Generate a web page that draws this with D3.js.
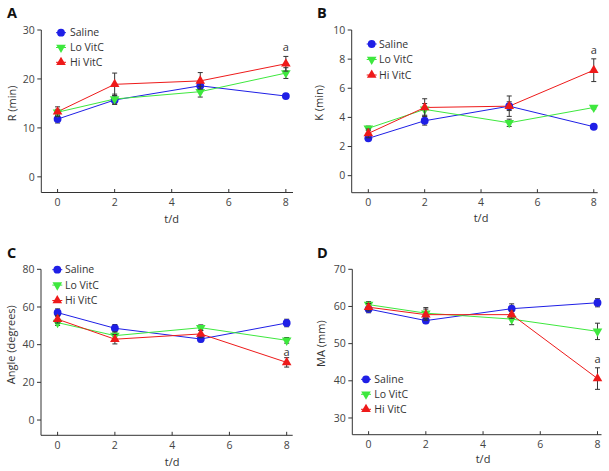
<!DOCTYPE html>
<html><head><meta charset="utf-8">
<script src="https://cdn.jsdelivr.net/npm/d3@7"></script>
<style>
body{margin:0;background:#fff;}
svg{display:block;}
text{font-family:"Open Sans","Noto Sans",sans-serif;}
</style></head>
<body>
<svg id="chart" width="609" height="471"></svg>
<script>
const days = [0, 2, 5, 8];
const xTicks = [0, 2, 4, 6, 8];
const seriesNames = ["Saline", "Lo VitC", "Hi VitC"];
const seriesColors = ["#1f1fe6", "#3ee83e", "#ee1a1a"];

// Panel A: R (min)
const rSaline = [11.8, 15.7, 18.6, 16.5];
const rSalineErr = [0.8, 0.9, 0.5, 0.3];
const rLo = [13.2, 15.9, 17.4, 21.2];
const rLoErr = [0.6, 1.0, 1.1, 1.1];
const rHi = [13.3, 18.9, 19.6, 23.1];
const rHiErr = [1.0, 2.3, 1.7, 1.5];
const rTicks = [0, 10, 20, 30];

// Panel B: K (min)
const kSaline = [2.56, 3.77, 4.77, 3.36];
const kSalineErr = [0.15, 0.3, 0.3, 0.1];
const kLo = [3.25, 4.55, 3.63, 4.68];
const kLoErr = [0.15, 0.4, 0.25, 0.1];
const kHi = [2.9, 4.68, 4.77, 7.24];
const kHiErr = [0.3, 0.6, 0.7, 0.78];
const kTicks = [0, 2, 4, 6, 8, 10];

// Panel C: Angle (degrees)
const angSaline = [57.0, 48.7, 43.0, 51.5];
const angSalineErr = [2, 2, 1.5, 2];
const angLo = [51.7, 44.8, 49.0, 42.3];
const angLoErr = [1.5, 2, 1.5, 1.5];
const angHi = [53.5, 42.9, 45.7, 30.6];
const angHiErr = [2, 2.5, 2, 2.5];
const angTicks = [0, 20, 40, 60, 80];

// Panel D: MA (mm)
const maSaline = [59.3, 56.2, 59.4, 61.0];
const maSalineErr = [1.0, 0.8, 1.3, 1.1];
const maLo = [60.5, 58.2, 56.6, 53.3];
const maLoErr = [0.8, 1.5, 1.5, 2.2];
const maHi = [59.8, 57.8, 57.8, 40.6];
const maHiErr = [1.0, 1.5, 1.0, 2.9];
const maTicks = [30, 40, 50, 60, 70];

const panels = [
  {letter:"A", lx:7, ly:18, ylabel:"R (min)", ylx:12,
   xdom:[-0.57, 8.25], xr:[41.3, 293], ydom:[-3.2, 30], yr:[192.5, 30], yticks:rTicks,
   series:[[rSaline,rSalineErr],[rLo,rLoErr],[rHi,rHiErr]], tdOff:26.5,
   leg:{x:61, tx:70, y:32.7, dy:14.8}},
  {letter:"B", lx:317, ly:18, ylabel:"K (min)", ylx:319,
   xdom:[-0.59, 8.14], xr:[351.7, 597.7], ydom:[-1.17, 10], yr:[192.7, 30], yticks:kTicks,
   series:[[kSaline,kSaline.map((d,i)=>kSalineErr[i])],[kLo,kLoErr],[kHi,kHiErr]], tdOff:25.6,
   leg:{x:371.7, tx:379, y:44, dy:15.5}},
  {letter:"C", lx:7, ly:258, ylabel:"Angle (degrees)", ylx:11.5,
   xdom:[-0.58, 8.21], xr:[41, 292.7], ydom:[-8.1, 80], yr:[435.3, 269.3], yticks:angTicks,
   series:[[angSaline,angSalineErr],[angLo,angLoErr],[angHi,angHiErr]], tdOff:26.4,
   leg:{x:57.3, tx:65, y:269.7, dy:15.4}},
  {letter:"D", lx:317, ly:258, ylabel:"MA (mm)", ylx:321,
   xdom:[-0.57, 8.14], xr:[352.3, 601.5], ydom:[25.5, 70], yr:[434.7, 269.3], yticks:maTicks,
   series:[[maSaline,maSalineErr],[maLo,maLoErr],[maHi,maHiErr]], tdOff:24.5,
   leg:{x:366, tx:374.3, y:379.3, dy:15}}
];

const svg = d3.select("#chart");
const symTypes = [d3.symbolCircle, d3.symbolTriangle, d3.symbolTriangle];
const symSizes = [48, 40, 40];
const symRot = [0, 180, 0];

function marker(g, i, x, y) {
  g.append("path")
    .attr("d", d3.symbol().type(symTypes[i]).size(symSizes[i])())
    .attr("transform", `translate(${x},${y}) rotate(${symRot[i]})`)
    .attr("fill", seriesColors[i]);
}

panels.forEach(p => {
  const g = svg.append("g");
  const x = d3.scaleLinear().domain(p.xdom).range(p.xr);
  const y = d3.scaleLinear().domain(p.ydom).range(p.yr);
  const yTop = y(p.yticks[p.yticks.length - 1]);

  // axes lines
  g.append("line").attr("x1", p.xr[0]).attr("x2", p.xr[0]).attr("y1", yTop).attr("y2", p.yr[0])
    .attr("stroke", "#333").attr("stroke-width", 1);
  g.append("line").attr("x1", p.xr[0]).attr("x2", p.xr[1]).attr("y1", p.yr[0]).attr("y2", p.yr[0])
    .attr("stroke", "#333").attr("stroke-width", 1);

  // y ticks
  p.yticks.forEach(t => {
    g.append("line").attr("x1", p.xr[0] - 4).attr("x2", p.xr[0]).attr("y1", y(t)).attr("y2", y(t))
      .attr("stroke", "#333");
    g.append("text").attr("x", p.xr[0] - 6.5).attr("y", y(t)).attr("dy", "0.35em")
      .attr("text-anchor", "end").attr("font-size", 10.5).attr("fill", "#444").text(t);
  });
  // x ticks
  xTicks.forEach(t => {
    g.append("line").attr("x1", x(t)).attr("x2", x(t)).attr("y1", p.yr[0] - 3.5).attr("y2", p.yr[0])
      .attr("stroke", "#333");
    g.append("text").attr("x", x(t)).attr("y", p.yr[0] + 10).attr("dy", "0.35em")
      .attr("text-anchor", "middle").attr("font-size", 10.5).attr("fill", "#444").text(t);
  });
  // axis titles
  g.append("text").attr("x", (x(0) + x(8)) / 2).attr("y", p.yr[0] + p.tdOff).attr("dy", "0.35em")
    .attr("text-anchor", "middle").attr("font-size", 11).attr("fill", "#333").text("t/d");
  g.append("text").attr("transform", `translate(${p.ylx},${(yTop + y(p.yticks[0])) / 2}) rotate(-90)`)
    .attr("dy", "0.35em").attr("text-anchor", "middle").attr("font-size", 11).attr("fill", "#333").text(p.ylabel);
  // panel letter
  g.append("text").attr("x", p.lx).attr("y", p.ly).attr("font-family", "Liberation Sans, Arial, sans-serif")
    .attr("font-weight", "bold").attr("font-size", 14.5).attr("fill", "#111").text(p.letter);

  const line = d3.line().x((d, i) => x(days[i])).y(d => y(d));
  p.series.forEach(([vals, errs], si) => {
    g.append("path").attr("d", line(vals)).attr("fill", "none")
      .attr("stroke", seriesColors[si]).attr("stroke-width", 1);
  });
  p.series.forEach(([vals, errs], si) => {
    vals.forEach((v, i) => {
      const cx = x(days[i]);
      const y1 = y(v - errs[i]), y2 = y(v + errs[i]);
      g.append("line").attr("x1", cx).attr("x2", cx).attr("y1", y1).attr("y2", y2).attr("stroke", "#333");
      [y1, y2].forEach(yy => g.append("line").attr("x1", cx - 2.5).attr("x2", cx + 2.5)
        .attr("y1", yy).attr("y2", yy).attr("stroke", "#333"));
    });
    vals.forEach((v, i) => marker(g, si, x(days[i]), y(v)));
  });

  // significance mark
  const hi = p.series[2][0], hiE = p.series[2][1];
  const aY = p.letter === "C" ? y(hi[3]) - 10 : y(hi[3] + hiE[3]) - 9;
  g.append("text").attr("x", x(8)).attr("y", aY).attr("dy", "0.35em").attr("text-anchor", "middle")
    .attr("font-size", 11).attr("fill", "#333").text("a");

  // legend
  seriesNames.forEach((n, i) => {
    const ly = p.leg.y + i * p.leg.dy;
    g.append("line").attr("x1", p.leg.x - 5).attr("x2", p.leg.x + 5).attr("y1", ly).attr("y2", ly)
      .attr("stroke", seriesColors[i]);
    marker(g, i, p.leg.x, ly);
    g.append("text").attr("x", p.leg.tx).attr("y", ly).attr("dy", "0.35em")
      .attr("font-size", 10.5).attr("fill", "#333").text(n);
  });
});
</script>
</body></html>
